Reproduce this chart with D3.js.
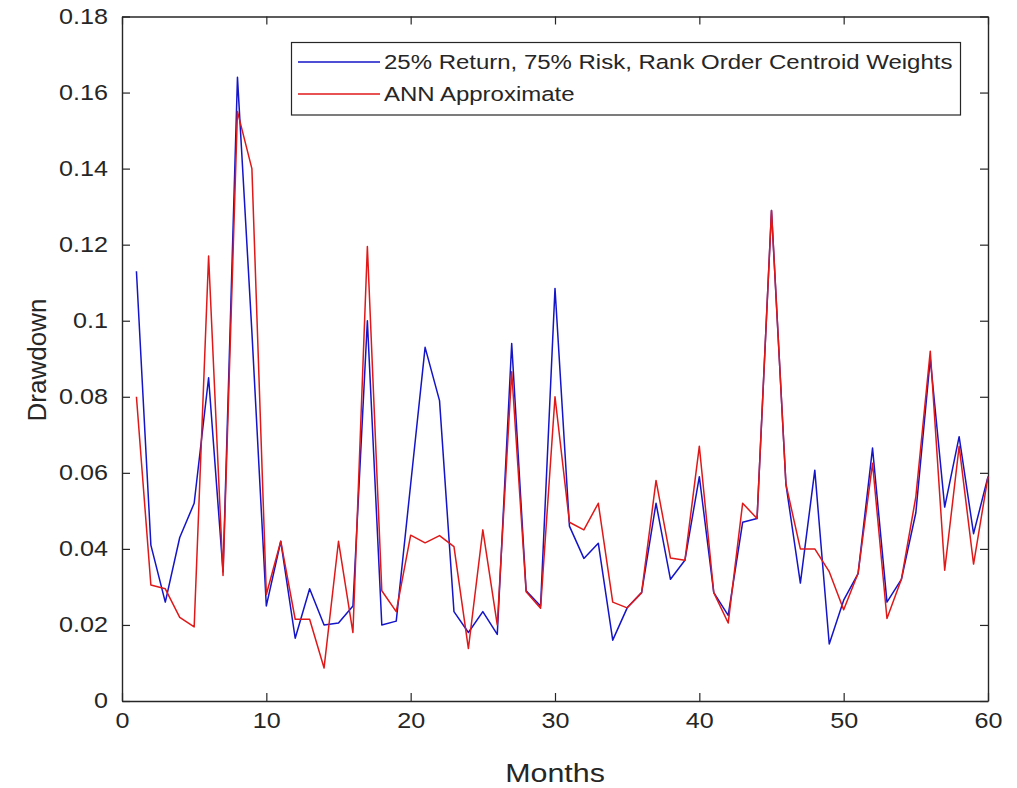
<!DOCTYPE html>
<html>
<head>
<meta charset="utf-8">
<script src="https://cdn.jsdelivr.net/npm/d3@7"></script>
<style>
  body { margin: 0; background: #fff; }
  text { font-family: "Liberation Sans", Arial, sans-serif; fill: #262626; }
</style>
</head>
<body>
<script>
// months on the x axis
var months = d3.range(1, 61);

// 25% Return, 75% Risk, Rank Order Centroid Weights
var rocValues = [0.113, 0.041, 0.026, 0.043, 0.052, 0.085, 0.034, 0.164, 0.097, 0.025,
                 0.042, 0.0165, 0.0295, 0.020, 0.0205, 0.025, 0.100, 0.020, 0.021, 0.057,
                 0.093, 0.079, 0.0235, 0.018, 0.0235, 0.0175, 0.094, 0.029, 0.025, 0.1085,
                 0.046, 0.0375, 0.0415, 0.016, 0.0245, 0.0285, 0.052, 0.032, 0.037, 0.059,
                 0.0285, 0.0225, 0.047, 0.048, 0.129, 0.057, 0.031, 0.0607, 0.015, 0.0265,
                 0.0335, 0.0665, 0.026, 0.032, 0.0495, 0.090, 0.051, 0.0695, 0.044, 0.059];

// ANN Approximate
var annValues = [0.080, 0.0305, 0.0295, 0.022, 0.0195, 0.117, 0.033, 0.155, 0.140, 0.028,
                 0.042, 0.0215, 0.0215, 0.0087, 0.042, 0.018, 0.1195, 0.029, 0.0235, 0.0436,
                 0.0416, 0.0435, 0.0406, 0.0138, 0.045, 0.020, 0.0866, 0.0287, 0.0244, 0.080,
                 0.047, 0.045, 0.052, 0.026, 0.0245, 0.0285, 0.058, 0.0376, 0.037, 0.067,
                 0.0285, 0.0205, 0.052, 0.048, 0.129, 0.057, 0.040, 0.040, 0.034, 0.024,
                 0.0336, 0.0625, 0.0217, 0.032, 0.0537, 0.092, 0.0344, 0.067, 0.036, 0.059];

var seriesNames = ["25% Return, 75% Risk, Rank Order Centroid Weights", "ANN Approximate"];
var seriesColors = ["#1414c8", "#e01818"];

var xTicks = [0, 10, 20, 30, 40, 50, 60];
var yTicks = [0, 0.02, 0.04, 0.06, 0.08, 0.1, 0.12, 0.14, 0.16, 0.18];

var width = 1017, height = 788;
var margin = {left: 122, right: 29, top: 16.5, bottom: 87};
var stretch = "scale(1.17,1)";   // the picture is a little wider than tall text would be

var svg = d3.select("body").append("svg")
    .attr("width", width)
    .attr("height", height);

var x = d3.scaleLinear().domain([0, 60]).range([margin.left, width - margin.right]);
var y = d3.scaleLinear().domain([0, 0.18]).range([height - margin.bottom, margin.top]);

// box with inward ticks on all four sides (matlab style)
function styleAxis(g) {
  g.select(".domain").attr("stroke", "#262626").attr("stroke-width", 1.4);
  g.selectAll(".tick line").attr("stroke", "#262626").attr("stroke-width", 1.2);
}

svg.append("g")
    .attr("transform", "translate(0," + y(0) + ")")
    .call(d3.axisBottom(x).tickValues(xTicks).tickSize(-8).tickPadding(12).tickSizeOuter(0))
    .call(styleAxis)
    .call(function(g) {
      g.selectAll("text").attr("font-size", 21.5).attr("fill", "#262626").attr("transform", stretch);
    });

svg.append("g")
    .attr("transform", "translate(0," + y(0.18) + ")")
    .call(d3.axisTop(x).tickValues(xTicks).tickSize(-8).tickFormat("").tickSizeOuter(0))
    .call(styleAxis);

svg.append("g")
    .attr("transform", "translate(" + x(0) + ",0)")
    .call(d3.axisLeft(y).tickValues(yTicks).tickSize(-8).tickPadding(12).tickSizeOuter(0)
      .tickFormat(function(d) { return d3.format("")(+d.toFixed(2)); }))
    .call(styleAxis)
    .call(function(g) {
      g.selectAll("text").attr("font-size", 21.5).attr("fill", "#262626").attr("transform", stretch);
    });

svg.append("g")
    .attr("transform", "translate(" + x(60) + ",0)")
    .call(d3.axisRight(y).tickValues(yTicks).tickSize(-8).tickFormat("").tickSizeOuter(0))
    .call(styleAxis);

// lines
var line = d3.line()
    .x(function(d, i) { return x(months[i]); })
    .y(function(d) { return y(d); });

[rocValues, annValues].forEach(function(vals, k) {
  svg.append("path")
      .datum(vals)
      .attr("fill", "none")
      .attr("stroke", seriesColors[k])
      .attr("stroke-width", 1.5)
      .attr("stroke-linejoin", "round")
      .attr("d", line);
});

// axis labels
svg.append("text")
    .attr("transform", "translate(555,773) " + stretch)
    .attr("text-anchor", "middle")
    .attr("dy", "0.35em")
    .attr("font-size", 26)
    .text("Months");

svg.append("text")
    .attr("transform", "translate(37,360) rotate(-90)")
    .attr("text-anchor", "middle")
    .attr("dy", "0.35em")
    .attr("font-size", 26)
    .text("Drawdown");

// legend
var legend = svg.append("g");
legend.append("rect")
    .attr("x", 291.5).attr("y", 42.5)
    .attr("width", 669).attr("height", 72.5)
    .attr("fill", "#fff")
    .attr("stroke", "#262626")
    .attr("stroke-width", 1.2);

var rows = legend.selectAll("g.row")
    .data(seriesNames)
    .enter()
    .append("g")
      .attr("class", "row")
      .attr("transform", function(d, i) { return "translate(0," + (62 + i * 32) + ")"; });

rows.append("line")
    .attr("x1", 298).attr("x2", 380)
    .attr("stroke", function(d, i) { return seriesColors[i]; })
    .attr("stroke-width", 1.5);

rows.append("text")
    .attr("transform", "translate(384,0) " + stretch)
    .attr("dy", "0.35em")
    .attr("font-size", 20.5)
    .text(function(d) { return d; });
</script>
</body>
</html>
